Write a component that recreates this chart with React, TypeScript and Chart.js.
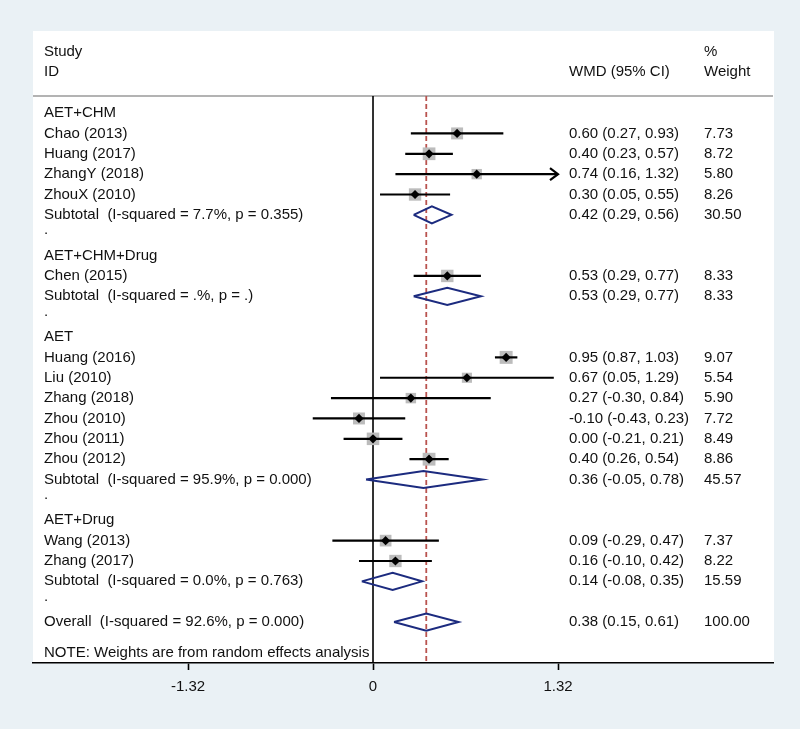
import { useEffect, useRef } from "react";
import { Chart, registerables } from "chart.js";

Chart.register(...registerables);

// ---------- data ----------
const groupNames = ["AET+CHM", "AET+CHM+Drug", "AET", "AET+Drug"];

const studyLabels = [
  "Chao (2013)", "Huang (2017)", "ZhangY (2018)", "ZhouX (2010)",
  "Chen (2015)",
  "Huang (2016)", "Liu (2010)", "Zhang (2018)", "Zhou (2010)", "Zhou (2011)", "Zhou (2012)",
  "Wang (2013)", "Zhang (2017)",
];
const studyGroup = [0, 0, 0, 0, 1, 2, 2, 2, 2, 2, 2, 3, 3];
const studyEst = [0.6, 0.4, 0.74, 0.3, 0.53, 0.95, 0.67, 0.27, -0.1, 0.0, 0.4, 0.09, 0.16];
const studyLo = [0.27, 0.23, 0.16, 0.05, 0.29, 0.87, 0.05, -0.3, -0.43, -0.21, 0.26, -0.29, -0.1];
const studyHi = [0.93, 0.57, 1.32, 0.55, 0.77, 1.03, 1.29, 0.84, 0.23, 0.21, 0.54, 0.47, 0.42];
const studyWeight = [7.73, 8.72, 5.8, 8.26, 8.33, 9.07, 5.54, 5.9, 7.72, 8.49, 8.86, 7.37, 8.22];

const subLabels = [
  "Subtotal  (I-squared = 7.7%, p = 0.355)",
  "Subtotal  (I-squared = .%, p = .)",
  "Subtotal  (I-squared = 95.9%, p = 0.000)",
  "Subtotal  (I-squared = 0.0%, p = 0.763)",
];
const subEst = [0.42, 0.53, 0.36, 0.14];
const subLo = [0.29, 0.29, -0.05, -0.08];
const subHi = [0.56, 0.77, 0.78, 0.35];
const subWeight = [30.5, 8.33, 45.57, 15.59];

const overallLabel = "Overall  (I-squared = 92.6%, p = 0.000)";
const overallEst = 0.38;
const overallLo = 0.15;
const overallHi = 0.61;
const overallWeight = 100.0;

const noteText = "NOTE: Weights are from random effects analysis";

const tickValues = [-1.32, 0, 1.32];
const tickLabels = ["-1.32", "0", "1.32"];
const xMin = -2.426;
const xMax = 2.854;
const arrowLimit = 1.32;

// ---------- style ----------
const FONT = "'Liberation Sans', Arial, Helvetica, sans-serif";
const BG = "#eaf1f5";
const NAVY = "#1c2b7f";
const RED = "#b9534f";
const BOX = "#bcbcbc";

const Y_MIN = -4.03;
const Y_MAX = 27.01;
const SEP_ROW = -0.835;

type Row = {
  kind: "group" | "study" | "sub" | "dot" | "overall";
  label: string;
  y: number;
  est?: number;
  lo?: number;
  hi?: number;
  w?: number;
};

function buildRows(): Row[] {
  const rows: Row[] = [];
  let r = 0;
  groupNames.forEach((g, gi) => {
    rows.push({ kind: "group", label: g, y: r++ });
    studyLabels.forEach((s, si) => {
      if (studyGroup[si] !== gi) return;
      rows.push({ kind: "study", label: s, y: r++, est: studyEst[si], lo: studyLo[si], hi: studyHi[si], w: studyWeight[si] });
    });
    rows.push({ kind: "sub", label: subLabels[gi], y: r++, est: subEst[gi], lo: subLo[gi], hi: subHi[gi], w: subWeight[gi] });
    rows.push({ kind: "dot", label: ".", y: r++ });
  });
  rows.push({ kind: "overall", label: overallLabel, y: r++, est: overallEst, lo: overallLo, hi: overallHi, w: overallWeight });
  return rows;
}

const fmt = (v: number) => v.toFixed(2);

export default function App() {
  const ref = useRef<HTMLCanvasElement>(null);

  useEffect(() => {
    const rows = buildRows();
    const noteRow = rows[rows.length - 1].y + 1.5;
    const studies = rows.filter((r) => r.kind === "study");
    const diamonds = rows.filter((r) => r.kind === "sub" || r.kind === "overall");

    const datasets: any[] = [];
    // reference lines
    datasets.push({
      data: [{ x: 0, y: SEP_ROW }, { x: 0, y: Y_MAX }],
      showLine: true, borderColor: "#000", borderWidth: 1.6, pointRadius: 0, order: 20,
    });
    datasets.push({
      data: [{ x: overallEst, y: SEP_ROW }, { x: overallEst, y: Y_MAX }],
      showLine: true, borderColor: RED, borderWidth: 1.8, borderDash: [5, 3], pointRadius: 0, order: 19,
    });
    // weight boxes
    datasets.push({
      data: studies.map((s) => ({ x: s.est, y: s.y })),
      pointStyle: "rect",
      pointRadius: studies.map((s) => (4.3 * Math.sqrt(s.w as number)) / 1.414),
      backgroundColor: BOX, borderWidth: 0, showLine: false, order: 10,
    });
    // CI lines
    studies.forEach((s) => {
      datasets.push({
        data: [{ x: s.lo, y: s.y }, { x: s.hi, y: s.y }],
        showLine: true, borderColor: "#000", borderWidth: 2.2, pointRadius: 0, order: 5,
      });
    });
    // point estimates
    datasets.push({
      data: studies.map((s) => ({ x: s.est, y: s.y })),
      pointStyle: "rectRot", pointRadius: 4.6, backgroundColor: "#000", borderColor: "#000", borderWidth: 0,
      showLine: false, order: 1,
    });
    // diamonds
    diamonds.forEach((d) => {
      const h = 0.42;
      datasets.push({
        data: [
          { x: d.lo, y: d.y }, { x: d.est, y: d.y - h }, { x: d.hi, y: d.y },
          { x: d.est, y: d.y + h }, { x: d.lo, y: d.y },
        ],
        showLine: true, borderColor: NAVY, borderWidth: 2, pointRadius: 0, fill: false, tension: 0, order: 2,
      });
    });

    const decor = {
      id: "decor",
      beforeDraw(chart: any) {
        const { ctx, chartArea: a, scales } = chart;
        ctx.save();
        ctx.fillStyle = BG;
        ctx.fillRect(0, 0, chart.width, chart.height);
        ctx.fillStyle = "#ffffff";
        ctx.fillRect(a.left, a.top, a.right - a.left + 1, a.bottom - a.top);
        const ys = scales.y.getPixelForValue(SEP_ROW);
        ctx.strokeStyle = "#9a9a9a";
        ctx.lineWidth = 1.6;
        ctx.beginPath();
        ctx.moveTo(a.left, ys);
        ctx.lineTo(a.right, ys);
        ctx.stroke();
        ctx.restore();
      },
      afterDraw(chart: any) {
        const { ctx, scales } = chart;
        const y = (v: number) => scales.y.getPixelForValue(v);
        const x = (v: number) => scales.x.getPixelForValue(v);
        ctx.save();
        ctx.fillStyle = "#111";
        ctx.font = `15px ${FONT}`;
        ctx.textBaseline = "middle";
        ctx.textAlign = "left";
        const LX = 44, WX = 569, PX = 704;
        // header
        ctx.fillText("Study", LX, y(-3));
        ctx.fillText("ID", LX, y(-2));
        ctx.fillText("WMD (95% CI)", WX, y(-2));
        ctx.fillText("%", PX, y(-3));
        ctx.fillText("Weight", PX, y(-2));
        rows.forEach((r) => {
          if (r.kind === "dot") {
            ctx.fillText(".", LX, y(r.y) - 5);
            return;
          }
          ctx.fillText(r.label, LX, y(r.y));
          if (r.est !== undefined) {
            ctx.fillText(`${fmt(r.est)} (${fmt(r.lo as number)}, ${fmt(r.hi as number)})`, WX, y(r.y));
            ctx.fillText(fmt(r.w as number), PX, y(r.y));
          }
        });
        ctx.fillText(noteText, LX, y(noteRow));
        // arrows for truncated CIs
        ctx.strokeStyle = "#000";
        ctx.lineWidth = 2.2;
        studies.forEach((s) => {
          if ((s.hi as number) >= arrowLimit) {
            const px = x(arrowLimit), py = y(s.y);
            ctx.beginPath();
            ctx.moveTo(px - 8, py - 6);
            ctx.lineTo(px, py);
            ctx.lineTo(px - 8, py + 6);
            ctx.stroke();
          }
        });
        ctx.restore();
      },
    };

    const chart = new Chart(ref.current as HTMLCanvasElement, {
      type: "scatter",
      data: { datasets },
      options: {
        animation: false,
        responsive: false,
        devicePixelRatio: 1,
        layout: { padding: { left: 33, right: 27, top: 31, bottom: 0 } },
        plugins: { legend: { display: false }, tooltip: { enabled: false } },
        scales: {
          x: {
            type: "linear",
            min: xMin,
            max: xMax,
            afterBuildTicks: (s: any) => {
              s.ticks = tickValues.map((v) => ({ value: v }));
            },
            afterFit: (s: any) => {
              s.height = 66;
            },
            ticks: {
              callback: (_v: any, i: number) => tickLabels[i],
              color: "#111",
              font: { family: FONT, size: 15 },
              padding: 8,
              autoSkip: false,
              maxRotation: 0,
            },
            grid: {
              display: true,
              drawOnChartArea: false,
              drawTicks: true,
              tickLength: 7,
              tickWidth: 1.6,
              tickColor: "#000",
            },
            border: { display: true, color: "#000", width: 1.6 },
          },
          y: {
            type: "linear",
            display: false,
            reverse: true,
            min: Y_MIN,
            max: Y_MAX,
          },
        },
      } as any,
      plugins: [decor],
    });
    return () => chart.destroy();
  }, []);

  return (
    <div style={{ position: "fixed", left: 0, top: 0, width: 800, height: 729, background: BG }}>
      <canvas ref={ref} width={800} height={729} style={{ display: "block", width: 800, height: 729 }} />
    </div>
  );
}
